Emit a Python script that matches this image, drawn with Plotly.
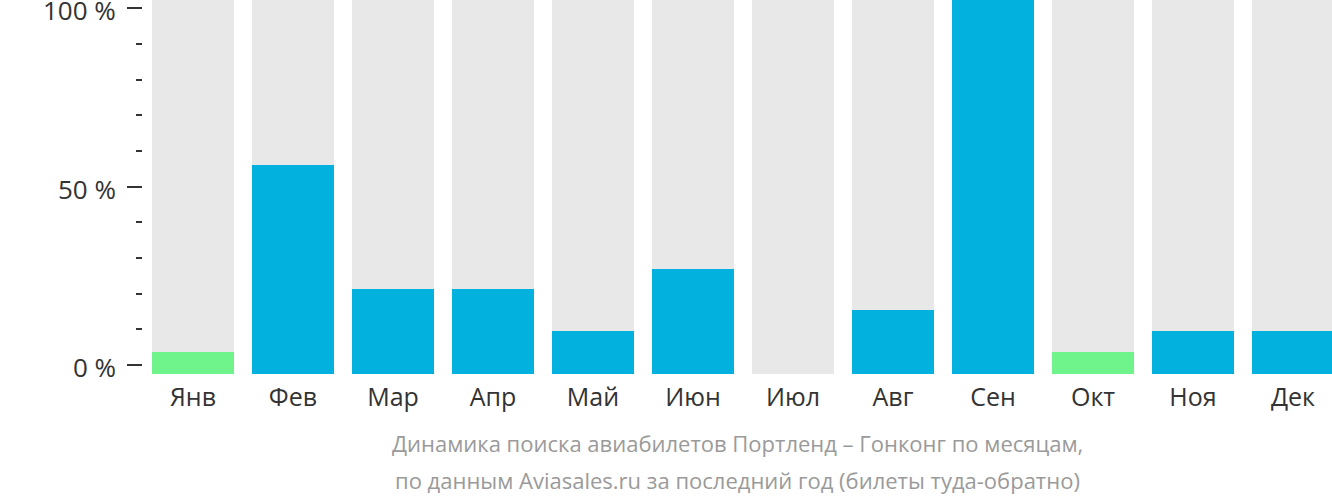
import plotly.graph_objects as go

months = ["Янв", "Фев", "Мар", "Апр", "Май", "Июн", "Июл", "Авг", "Сен", "Окт", "Ноя", "Дек"]
values = [5.9, 55.9, 22.7, 22.7, 11.5, 28.1, 0, 17.1, 100, 5.9, 11.5, 11.5]
low_months = ["Янв", "Окт"]
background = [100] * len(months)
tick_vals = [0, 50, 100]
tick_text = ["0 %", "50 %", "100 %"]
caption = ["Динамика поиска авиабилетов Портленд – Гонконг по месяцам,",
           "по данным Aviasales.ru за последний год (билеты туда-обратно)"]

BLUE = "#02b1dd"
GREEN = "#6ef48a"
GREY = "#e8e8e8"
FONT = "Open Sans"

colors = [GREEN if m in low_months else BLUE for m in months]

fig = go.Figure()
fig.add_trace(go.Bar(x=months, y=background, marker=dict(color=GREY, line=dict(width=0)),
                     hoverinfo="skip", showlegend=False))
fig.add_trace(go.Bar(x=months, y=values, marker=dict(color=colors, line=dict(width=0)),
                     showlegend=False))
fig.add_trace(go.Scatter(x=[months[0]], y=[None], yaxis="y2", mode="markers",
                         hoverinfo="skip", showlegend=False))

fig.update_layout(
    template="none",
    width=1332, height=502,
    margin=dict(l=143, r=0, t=0, b=128, pad=0),
    paper_bgcolor="white", plot_bgcolor="white",
    barmode="overlay", bargap=0.18,
    font=dict(family=FONT, color="#333333"),
    xaxis=dict(type="category", range=[-0.5, 11.39], showgrid=False, zeroline=False,
               showline=False, ticks="", automargin=False, ticklabelstandoff=6,
               tickfont=dict(size=25, color="#333333"),
               fixedrange=True),
    yaxis=dict(range=[0, 100], visible=False, fixedrange=True, automargin=False),
    yaxis2=dict(range=[-2.52, 102.38], overlaying="y", side="left", anchor="x",
                showgrid=False, zeroline=False, showline=False, automargin=False,
                tickvals=tick_vals, showticklabels=False,
                ticks="outside", ticklen=15, tickwidth=2, tickcolor="#333333",
                minor=dict(dtick=10, tick0=0, ticks="outside", ticklen=6, tickwidth=2,
                           tickcolor="#333333", showgrid=False),
                fixedrange=True),
    showlegend=False,
)

for v, t in zip(tick_vals, tick_text):
    fig.add_annotation(text=t, xref="paper", yref="y2", x=0, y=v, xshift=-26, yshift=-2,
                       xanchor="right", yanchor="middle", showarrow=False, borderpad=0,
                       height=20, valign="middle",
                       font=dict(size=26, color="#333333", family=FONT))

for i, line in enumerate(caption):
    fig.add_annotation(text=line, xref="paper", yref="paper", x=0.5, y=0,
                       yshift=-69 - 37 * i, xanchor="center", yanchor="middle",
                       showarrow=False, font=dict(size=22, color="#9a9a9a", family=FONT))

fig.write_html("out.html")
